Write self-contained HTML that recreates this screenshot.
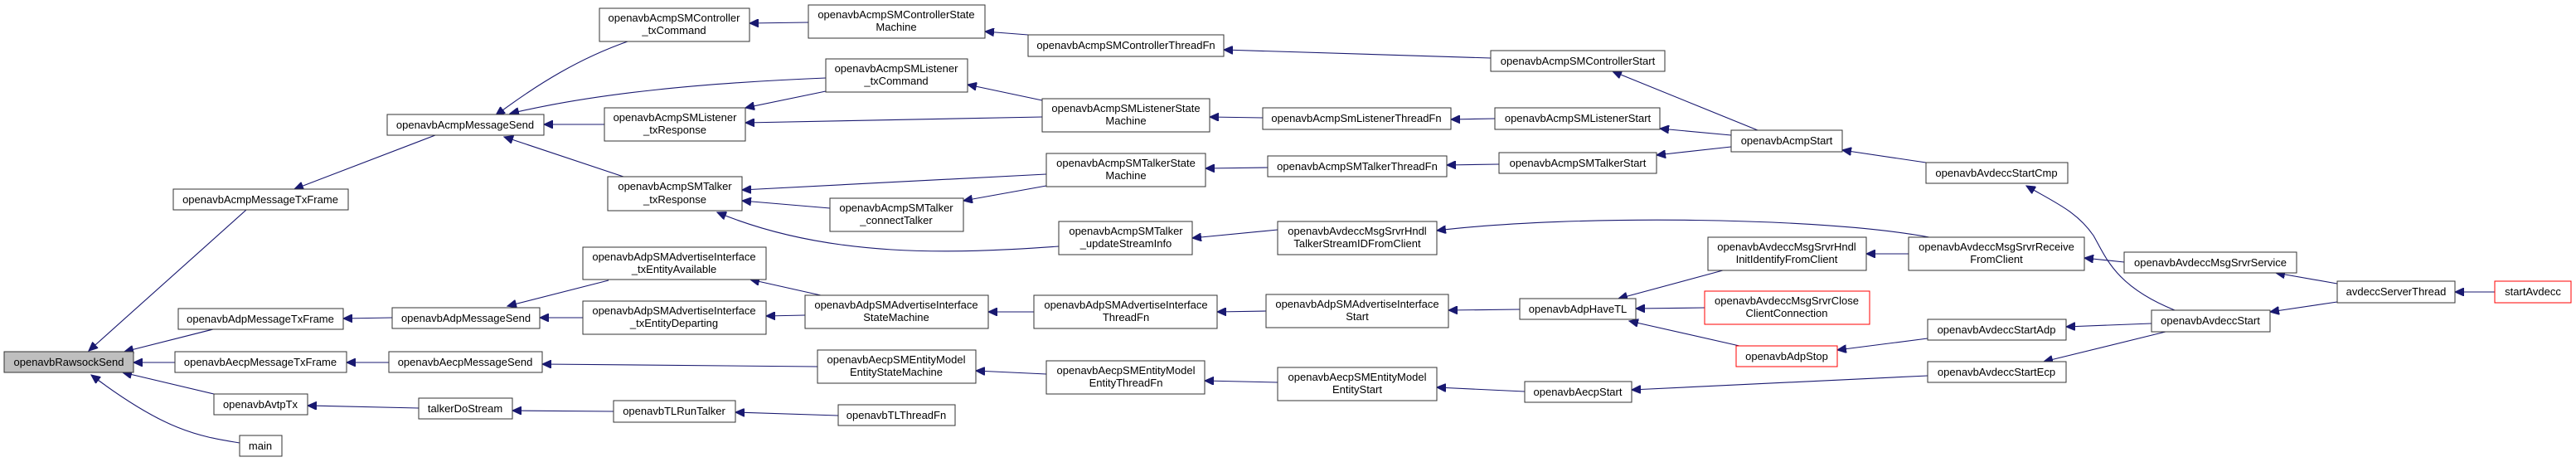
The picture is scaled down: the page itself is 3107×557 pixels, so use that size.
<!DOCTYPE html>
<html><head><meta charset="utf-8"><style>
html,body{margin:0;padding:0;background:#fff;width:3107px;height:557px;overflow:hidden}
svg text{font-family:"Liberation Sans",Arial,sans-serif;font-size:13px;fill:#000;text-anchor:middle}
rect{fill:#fff;stroke:#333;stroke-width:1}
rect.r{stroke:#f00}
path{fill:none;stroke:#191970;stroke-width:1.1}
</style></head><body>
<svg width="3107" height="557" viewBox="0 0 3107 557" xmlns="http://www.w3.org/2000/svg">
<defs><marker id="a" markerUnits="userSpaceOnUse" markerWidth="12" markerHeight="10" refX="11" refY="5" orient="auto"><path d="M0,0 L11,5 L0,10 Z" style="fill:#191970;stroke:#191970"/></marker></defs>
<g marker-end="url(#a)">
<path d="M297,253 L107,423"/>
<path d="M257,397 L150,424"/>
<path d="M211,437 L161,437"/>
<path d="M258,475 L148,449"/>
<path d="M289,534 C240,526 200,520 110,452"/>
<path d="M525,163 L355,228"/>
<path d="M473,383 L414,384"/>
<path d="M469,437 L418,437"/>
<path d="M505,492 L371,489"/>
<path d="M740,496 L618,495"/>
<path d="M1011,501 L887,497"/>
<path d="M757,50 C700,70 650,100 598,139"/>
<path d="M996,94 C850,100 720,112 615,137"/>
<path d="M729,150 L656,150"/>
<path d="M752,213 L608,165"/>
<path d="M975,27 L904,28"/>
<path d="M1257,121 L1167,102"/>
<path d="M1257,141 L899,148"/>
<path d="M996,110 L899,130"/>
<path d="M1262,210 L895,229"/>
<path d="M1262,224 L1162,242"/>
<path d="M1001,251 L895,242"/>
<path d="M1277,297 C1150,306 1000,312 865,256"/>
<path d="M1240,42 L1188,38"/>
<path d="M1523,142 L1459,141"/>
<path d="M1529,202 L1454,203"/>
<path d="M1798,70 L1476,60"/>
<path d="M1803,143 L1750,144"/>
<path d="M1808,198 L1745,199"/>
<path d="M2120,157 L1945,86"/>
<path d="M2088,163 L2002,155"/>
<path d="M2088,177 L1998,187"/>
<path d="M2323,196 L2222,181"/>
<path d="M2623,374 C2551,345 2540,310 2525,284 C2505,255 2480,245 2444,224"/>
<path d="M1541,277 L1438,287"/>
<path d="M2327,286 C2200,262 1900,258 1733,278"/>
<path d="M2562,316 L2514,311"/>
<path d="M2819,342 L2745,329"/>
<path d="M2819,364 L2738,376"/>
<path d="M3009,352 L2961,352"/>
<path d="M2595,390 L2492,394"/>
<path d="M2612,400 L2465,436"/>
<path d="M734,338 L612,369"/>
<path d="M703,383 L651,383"/>
<path d="M990,356 L905,337"/>
<path d="M971,380 L924,381"/>
<path d="M1247,376 L1192,376"/>
<path d="M1527,375 L1747,374" marker-end="none"/>
<path d="M1527,375 L1468,376"/>
<path d="M1833,373 L1747,374"/>
<path d="M2078,326 L1952,360"/>
<path d="M2056,371 L1973,372"/>
<path d="M2098,417 L1965,387"/>
<path d="M2325,408 L2216,422"/>
<path d="M2302,306 L2251,306"/>
<path d="M986,442 L654,439"/>
<path d="M1262,451 L1177,447"/>
<path d="M1541,461 L1453,459"/>
<path d="M1839,472 L1733,467"/>
<path d="M2325,453 L1968,470"/>
</g>

<rect x="5" y="424" width="156" height="25" style="fill:#bfbfbf"/><text x="83" y="441">openavbRawsockSend</text>
<rect x="209" y="228" width="211" height="25"/><text x="314" y="245">openavbAcmpMessageTxFrame</text>
<rect x="215" y="372" width="199" height="25"/><text x="314" y="389">openavbAdpMessageTxFrame</text>
<rect x="211" y="424" width="207" height="25"/><text x="314" y="441">openavbAecpMessageTxFrame</text>
<rect x="258" y="475" width="113" height="25"/><text x="314" y="492">openavbAvtpTx</text>
<rect x="289" y="525" width="51" height="25"/><text x="314" y="542">main</text>
<rect x="467" y="138" width="189" height="25"/><text x="561" y="155">openavbAcmpMessageSend</text>
<rect x="473" y="371" width="178" height="25"/><text x="562" y="388">openavbAdpMessageSend</text>
<rect x="469" y="424" width="185" height="25"/><text x="561" y="441">openavbAecpMessageSend</text>
<rect x="505" y="480" width="113" height="25"/><text x="561" y="497">talkerDoStream</text>

<rect x="723" y="10" width="181" height="40"/><text x="813" y="26">openavbAcmpSMController</text><text x="813" y="41">_txCommand</text>
<rect x="975" y="6" width="213" height="40"/><text x="1081" y="22">openavbAcmpSMControllerState</text><text x="1081" y="37">Machine</text>
<rect x="996" y="71" width="171" height="40"/><text x="1081" y="87">openavbAcmpSMListener</text><text x="1081" y="102">_txCommand</text>
<rect x="729" y="130" width="170" height="40"/><text x="814" y="146">openavbAcmpSMListener</text><text x="814" y="161">_txResponse</text>
<rect x="733" y="213" width="162" height="41"/><text x="814" y="229">openavbAcmpSMTalker</text><text x="814" y="245">_txResponse</text>
<rect x="1001" y="239" width="161" height="40"/><text x="1081" y="255">openavbAcmpSMTalker</text><text x="1081" y="270">_connectTalker</text>
<rect x="703" y="298" width="221" height="39"/><text x="813" y="314">openavbAdpSMAdvertiseInterface</text><text x="813" y="329">_txEntityAvailable</text>
<rect x="703" y="363" width="221" height="40"/><text x="813" y="379">openavbAdpSMAdvertiseInterface</text><text x="813" y="394">_txEntityDeparting</text>
<rect x="971" y="356" width="221" height="40"/><text x="1081" y="372">openavbAdpSMAdvertiseInterface</text><text x="1081" y="387">StateMachine</text>
<rect x="986" y="422" width="191" height="40"/><text x="1081" y="438">openavbAecpSMEntityModel</text><text x="1081" y="453">EntityStateMachine</text>
<rect x="740" y="483" width="147" height="26"/><text x="813" y="500">openavbTLRunTalker</text>
<rect x="1011" y="488" width="141" height="25"/><text x="1081" y="505">openavbTLThreadFn</text>

<rect x="1240" y="42" width="236" height="26"/><text x="1358" y="59">openavbAcmpSMControllerThreadFn</text>
<rect x="1257" y="119" width="202" height="40"/><text x="1358" y="135">openavbAcmpSMListenerState</text><text x="1358" y="150">Machine</text>
<rect x="1523" y="130" width="227" height="26"/><text x="1636" y="147">openavbAcmpSmListenerThreadFn</text>
<rect x="1262" y="185" width="192" height="40"/><text x="1358" y="201">openavbAcmpSMTalkerState</text><text x="1358" y="216">Machine</text>
<rect x="1529" y="188" width="216" height="25"/><text x="1637" y="205">openavbAcmpSMTalkerThreadFn</text>
<rect x="1277" y="267" width="161" height="40"/><text x="1358" y="283">openavbAcmpSMTalker</text><text x="1358" y="298">_updateStreamInfo</text>
<rect x="1541" y="267" width="192" height="40"/><text x="1637" y="283">openavbAvdeccMsgSrvrHndl</text><text x="1637" y="298">TalkerStreamIDFromClient</text>
<rect x="1247" y="356" width="221" height="40"/><text x="1358" y="372">openavbAdpSMAdvertiseInterface</text><text x="1358" y="387">ThreadFn</text>
<rect x="1527" y="355" width="220" height="40"/><text x="1637" y="371">openavbAdpSMAdvertiseInterface</text><text x="1637" y="386">Start</text>
<rect x="1262" y="435" width="191" height="40"/><text x="1358" y="451">openavbAecpSMEntityModel</text><text x="1358" y="466">EntityThreadFn</text>
<rect x="1541" y="443" width="192" height="40"/><text x="1637" y="459">openavbAecpSMEntityModel</text><text x="1637" y="474">EntityStart</text>

<rect x="1798" y="61" width="210" height="25"/><text x="1903" y="78">openavbAcmpSMControllerStart</text>
<rect x="1803" y="130" width="199" height="26"/><text x="1903" y="147">openavbAcmpSMListenerStart</text>
<rect x="1808" y="184" width="190" height="25"/><text x="1903" y="201">openavbAcmpSMTalkerStart</text>
<rect x="2088" y="157" width="134" height="26"/><text x="2155" y="174">openavbAcmpStart</text>
<rect x="2323" y="196" width="171" height="25"/><text x="2408" y="213">openavbAvdeccStartCmp</text>
<rect x="2060" y="286" width="191" height="40"/><text x="2155" y="302">openavbAvdeccMsgSrvrHndl</text><text x="2155" y="317">InitIdentifyFromClient</text>
<rect x="2302" y="286" width="212" height="40"/><text x="2408" y="302">openavbAvdeccMsgSrvrReceive</text><text x="2408" y="317">FromClient</text>
<rect x="1833" y="360" width="140" height="25"/><text x="1903" y="377">openavbAdpHaveTL</text>
<rect class="r" x="2056" y="351" width="199" height="40"/><text x="2155" y="367">openavbAvdeccMsgSrvrClose</text><text x="2155" y="382">ClientConnection</text>
<rect class="r" x="2094" y="417" width="122" height="25"/><text x="2155" y="434">openavbAdpStop</text>
<rect x="2325" y="385" width="167" height="25"/><text x="2408" y="402">openavbAvdeccStartAdp</text>
<rect x="1839" y="460" width="129" height="25"/><text x="1903" y="477">openavbAecpStart</text>
<rect x="2325" y="436" width="167" height="25"/><text x="2408" y="453">openavbAvdeccStartEcp</text>

<rect x="2562" y="304" width="208" height="25"/><text x="2666" y="321">openavbAvdeccMsgSrvrService</text>
<rect x="2595" y="374" width="143" height="26"/><text x="2666" y="391">openavbAvdeccStart</text>
<rect x="2819" y="339" width="142" height="26"/><text x="2890" y="356">avdeccServerThread</text>
<rect class="r" x="3009" y="339" width="92" height="26"/><text x="3055" y="356">startAvdecc</text>
</svg>
</body></html>
